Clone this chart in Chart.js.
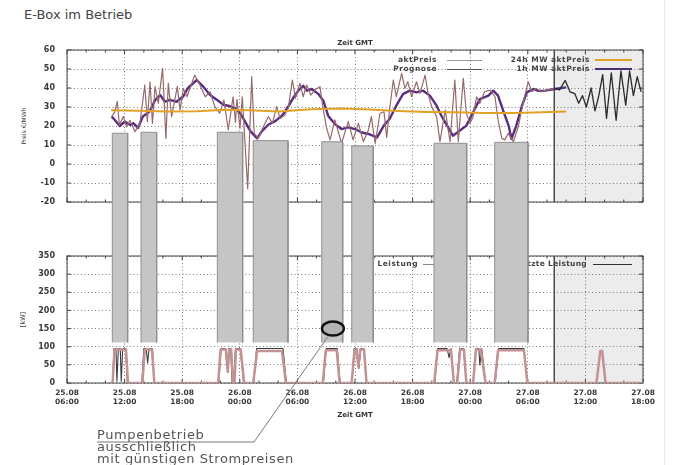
<!DOCTYPE html>
<html>
<head>
<meta charset="utf-8">
<script src="https://cdn.jsdelivr.net/npm/chart.js@4.4.1/dist/chart.umd.min.js"></script>
<style>
  html, body { margin: 0; padding: 0; background: #fff; }
  #page { position: relative; width: 673px; height: 465px; overflow: hidden; font-family: 'DejaVu Sans', sans-serif; }
  canvas { position: absolute; left: 0; top: 0; }
  .txt { position: absolute; white-space: nowrap; }
  .key { font-size: 7.5px; font-weight: bold; letter-spacing: 0.5px; color: #444; text-align: right; }
  .sample { position: absolute; }
</style>
</head>
<body>
<div id="page">
  <div class="txt" style="left:24px; top:7px; font-size:13px; color:#444;">E-Box im Betrieb</div>
  <div style="position:absolute; left:664px; top:0; width:1px; height:465px; background:#e3e8ee;"></div>

  <canvas id="powerChart" width="673" height="465" style="z-index:1"></canvas>
  <!-- key of the power plot, partly covered by the grey boxes -->
  <div class="txt key" style="right:255px; top:259px; z-index:2;">Ist Leistung</div>
  <div class="sample" style="left:423px; top:264px; width:37px; height:1px; background:#888; z-index:2;"></div>
  <div class="txt key" style="right:86px; top:259px; z-index:2; letter-spacing:0.3px;">Geschätzte Leistung</div>
  <div class="sample" style="left:593px; top:264px; width:39px; height:1px; background:#333; z-index:2;"></div>

  <canvas id="priceChart" width="673" height="465" style="z-index:3"></canvas>
  <!-- key of the price plot -->
  <div class="txt key" style="right:236px; top:55px; z-index:4;">aktPreis</div>
  <div class="sample" style="left:447px; top:60px; width:35px; height:1px; background:#999; z-index:4;"></div>
  <div class="txt key" style="right:236px; top:64px; z-index:4;">Prognose</div>
  <div class="sample" style="left:447px; top:69px; width:35px; height:1px; background:#555; z-index:4;"></div>
  <div class="txt key" style="right:83px; top:55px; z-index:4;">24h MW aktPreis</div>
  <div class="sample" style="left:595px; top:59px; width:37px; height:2px; background:#e3a126; z-index:4;"></div>
  <div class="txt key" style="right:83px; top:64px; z-index:4;">1h MW aktPreis</div>
  <div class="sample" style="left:595px; top:68px; width:37px; height:2px; background:#4a2c72; z-index:4;"></div>

  <canvas id="boxChart" width="673" height="465" style="z-index:5"></canvas>
  <div class="txt" style="left:97px; top:429px; font-size:13px; line-height:11.8px; color:#555; letter-spacing:0.6px; z-index:6;">Pumpenbetrieb<br>ausschließlich<br>mit günstigen Strompreisen</div>
</div>

<script>
Chart.defaults.font.family = 'DejaVu Sans';
Chart.defaults.animation = false;

// time axis: hours after 25.08 06:00 GMT
const startDay = 25;
const startHour = 6;
const month = '08';
const nowHour = 50.75;

// aktPreis (EUR/MWh)
const aktHours = [4.65, 4.95, 5.24, 5.45, 5.87, 6.2, 6.56, 7.08, 7.6, 8.1, 8.37, 8.65, 8.9, 9.17, 9.51, 9.96,
  10.3, 10.55, 10.9, 11.49, 11.77, 12.12, 12.5, 13.3, 13.85, 14.4, 14.9, 15.4, 15.9, 16.35, 16.8, 17.3,
  17.55, 17.7, 18.02, 18.26, 18.82, 19.24, 19.5, 19.93, 20.45, 20.97, 21.4, 21.84, 22.2, 22.7, 23.05,
  23.47, 23.8, 24.27, 24.6, 24.97, 25.4, 25.8, 26.35, 26.7, 27.05, 27.4, 27.9, 28.6, 29.3, 29.8, 30.35,
  30.87, 31.4, 31.7, 32.1, 32.6, 33.02, 33.3, 33.6, 33.99, 34.3, 34.86, 35.2, 35.5, 35.9, 36.4, 36.77,
  37.3, 37.64, 37.99, 38.5, 38.85, 39.4, 39.9, 40.4, 40.76, 41.28, 41.6, 41.97, 42.3, 42.67, 43.0, 43.5,
  44.06, 44.58, 44.9, 45.3, 45.6, 45.97, 46.5, 47.0, 47.5, 48.05, 48.4, 48.9, 49.4, 49.97, 50.7];
const aktValues = [25, 27, 33, 20.5, 25, 19.6, 23, 17, 21.4, 41.6, 22.3, 43.3, 21.4, 40.7, 31.9, 50.4,
  13.5, 42.5, 24.9, 40.7, 28.4, 39.8, 35.4, 46.8, 41.6, 35.4, 38, 30.2, 26.7, 33.7, 17.9, 35.4,
  22, 34, 18.8, 35.4, -13, 46, 16.1, 13.5, 19.6, 24.9, 21.4, 30.2, 24, 25.8, 29.3,
  44.2, 34.6, 42.5, 35.4, 41.6, 36.3, 38.9, 40.7, 28.4, 18.8, 12.7, 23.2, 10.9, 22.3, 12.7, 21.4,
  11.8, 17.9, 24.9, 10.9, 26.7, 27.5, 14, 28.4, 44.2, 35.4, 47.7, 39.8, 43.3, 35.4, 43.3, 37.2,
  46.8, 36.3, 30.2, 24.9, 11.8, 28.4, 11.8, 44.2, 11.8, 45.1, 26.7, 21.4, 24.9, 35.4, 31.9, 38,
  38.9, 35.4, 23.2, 13.5, 12.7, 16.1, 11.7, 19.6, 31.9, 43.3, 38, 39.8, 38, 38.9, 39.8];

// 1h MW aktPreis
const mw1hHours = [4.65, 5.0, 5.5, 6.0, 6.6, 6.9, 7.4, 7.9, 8.6, 9.2, 9.7, 10.2, 10.7, 11.4, 12.1, 12.6,
  13.5, 14.2, 14.9, 15.6, 16.3, 17.0, 17.7, 18.2, 19.1, 19.8, 20.3, 21.0, 21.7, 22.4, 23.1, 23.6, 24.1,
  24.6, 25.0, 25.5, 26.2, 26.7, 27.2, 27.9, 28.6, 29.3, 30.0, 30.7, 31.4, 32.3, 33.0, 33.6, 34.3, 35.0,
  35.7, 36.4, 37.1, 37.8, 38.5, 39.0, 39.7, 40.2, 40.9, 41.6, 42.3, 43.0, 43.9, 44.4, 44.9, 45.5, 46.0,
  46.3, 46.8, 47.4, 47.9, 48.6, 49.1, 49.8, 50.8, 52.0];
const mw1hValues = [25, 23, 20, 22.3, 20.5, 21.5, 19, 25, 27.6, 33.8, 36.3, 32.8, 33.8, 32.8, 35.5, 40,
  44.2, 40.7, 36.3, 33.8, 31.2, 30.4, 28.6, 25.5, 17.3, 13.5, 17.3, 20.8, 22.6, 25.5, 30.7, 35.1, 38.6,
  41.2, 38.6, 39.5, 36.8, 33.3, 25.4, 21, 18.4, 19.3, 18.4, 16.6, 15.8, 14, 20.2, 23.7, 30.7, 36.8,
  38.6, 37.7, 38.6, 36, 30.7, 25.4, 19.3, 14.9, 17.5, 20.2, 27.2, 34.2, 36, 38.6, 36, 27.2, 20.2,
  13.2, 20.2, 30.7, 37.7, 39.5, 38.5, 38.6, 39.5, 40.3];

// 24h MW aktPreis
const mw24hHours = [4.6, 7.5, 10.5, 13.5, 16.5, 19.0, 22.0, 25.5, 28.5, 31.5, 34.5, 37.5, 40.5, 43.5, 46.5, 49.5, 52.0];
const mw24hValues = [28.3, 28.0, 27.6, 27.8, 28.6, 28.3, 27.6, 28.8, 29.2, 28.7, 27.9, 27.4, 27.2, 26.9, 26.8, 27.2, 27.6];

// Prognose (after now)
const prognoseHours = [50.75, 51.3, 51.9, 52.4, 52.9, 53.3, 53.7, 54.1, 54.6, 55.0, 55.4, 55.8, 56.2,
  56.7, 57.2, 57.7, 58.2, 58.6, 59.0, 59.4, 59.8];
const prognoseValues = [40, 39, 44, 38, 37, 32, 36, 30, 40, 28, 36, 47, 24, 48, 23, 49, 31, 49, 36, 46, 38];

// Ist Leistung (kW)
const istHours = [4.5, 4.75, 4.9, 5.1, 5.2, 5.35, 5.55, 5.65, 5.8, 6.1, 6.3, 7.8, 8.0, 8.25, 8.4, 8.55, 8.9, 9.1,
  15.8, 16.05, 16.5, 16.7, 16.85, 17.05, 17.2, 17.35, 17.55, 18.05, 18.4, 19.45, 19.75, 22.5, 22.85,
  26.7, 27.0, 28.15, 28.45, 29.7, 29.9, 30.2, 30.4, 30.6, 30.9, 31.2, 38.3, 38.6, 39.6, 39.8, 40.0, 40.3,
  40.6, 40.9, 41.3, 41.6, 42.3, 42.6, 42.9, 43.0, 43.2, 43.6, 44.6, 44.95, 47.6, 47.95, 50.75];
const istValues = [0, 0, 95, 95, 5, 95, 95, 5, 95, 95, 0, 0, 95, 95, 55, 95, 95, 0,
  0, 95, 95, 40, 95, 95, 0, 0, 95, 95, 0, 0, 95, 95, 0,
  0, 95, 95, 0, 0, 95, 95, 40, 95, 95, 0, 0, 95, 95, 70, 95, 0,
  0, 95, 95, 0, 0, 95, 95, 50, 95, 0, 0, 95, 95, 0, 0];

// Geschaetzte Leistung (kW)
const estHours = [4.5, 4.75, 4.95, 6.15, 6.35, 7.85, 8.1, 8.85, 9.1, 15.75, 16.0, 16.55, 16.75, 16.9, 17.1, 17.3,
  17.45, 17.6, 18.1, 18.45, 19.4, 19.8, 22.4, 22.8, 26.65, 26.95, 28.1, 28.4, 29.65, 29.95, 30.15, 30.35,
  30.55, 30.95, 31.2, 38.25, 38.6, 40.0, 40.3, 40.65, 40.95, 41.35, 41.6, 42.3, 42.6, 43.1, 43.6,
  44.55, 44.9, 47.6, 47.95, 55.15, 55.55, 55.75, 56.1, 60];
const estValues = [0, 0, 92, 92, 0, 0, 92, 92, 0, 0, 92, 92, 30, 92, 92, 0,
  0, 92, 92, 0, 0, 88, 88, 0, 0, 90, 90, 0, 0, 92, 92, 45,
  92, 92, 0, 0, 90, 90, 0, 0, 92, 92, 0, 0, 92, 92, 0,
  0, 90, 90, 0, 0, 88, 88, 0, 0];

// grey boxes: pumping windows (start/end hour, upper edge in EUR/MWh)
const boxStart = [4.72, 7.71, 15.66, 19.4, 26.53, 29.66, 38.23, 44.55];
const boxEnd = [6.32, 9.34, 18.3, 23.02, 28.72, 31.9, 41.64, 48.02];
const boxTop = [16.2, 16.7, 16.7, 12.3, 11.7, 9.5, 10.9, 11.4];
const boxBottom = -94.05;

// marked point in the power plot
const calloutHour = 27.7;
const calloutKW = 150;

const pts = (xs, ys) => xs.map((x, i) => ({x: x, y: ys[i]}));

const tickFont = {family: 'DejaVu Sans', size: 8, weight: 'bold'};
const titleFont = {family: 'DejaVu Sans', size: 7, weight: 'bold'};
const gridOpts = {color: '#7a7a7a', lineWidth: 1, drawTicks: false};
const gridBorder = {display: false, dash: [1, 2.5]};

function timeLabel(v) {
  const t = startHour + v;
  const d = startDay + Math.floor(t / 24);
  const hh = String(t % 24).padStart(2, '0');
  return [d + '.' + month, hh + ':00'];
}

// future shading, now line, frame and small inside ticks
const framePlugin = {
  id: 'frame',
  beforeDraw(chart) {
    const {ctx, chartArea: a} = chart;
    const nx = chart.scales.x.getPixelForValue(nowHour);
    ctx.save();
    ctx.fillStyle = '#ececec';
    ctx.fillRect(nx, a.top, a.right - nx, a.bottom - a.top);
    ctx.restore();
  },
  beforeDatasetsDraw(chart) {
    const {ctx, chartArea: a, scales: {x, y}} = chart;
    ctx.save();
    ctx.strokeStyle = '#222';
    ctx.lineWidth = 1.2;
    const nx = x.getPixelForValue(nowHour);
    ctx.beginPath();
    ctx.moveTo(nx, a.top);
    ctx.lineTo(nx, a.bottom);
    ctx.stroke();
    ctx.strokeStyle = '#444';
    ctx.lineWidth = 1;
    ctx.strokeRect(a.left, a.top, a.right - a.left, a.bottom - a.top);
    ctx.beginPath();
    for (let h = 0; h <= 60; h += 2) {
      const px = x.getPixelForValue(h);
      const len = h % 6 === 0 ? 4 : 2.5;
      ctx.moveTo(px, a.top); ctx.lineTo(px, a.top + len);
      ctx.moveTo(px, a.bottom); ctx.lineTo(px, a.bottom - len);
    }
    y.ticks.forEach(t => {
      const py = y.getPixelForValue(t.value);
      ctx.moveTo(a.left, py); ctx.lineTo(a.left + 4, py);
      ctx.moveTo(a.right, py); ctx.lineTo(a.right - 4, py);
    });
    ctx.stroke();
    ctx.restore();
  }
};

function timeScale(showLabels, height) {
  return {
    type: 'linear', min: 0, max: 60,
    ticks: {stepSize: 6, display: showLabels, font: {family: 'DejaVu Sans', size: 7.5, weight: 'bold'},
      color: '#3a3a3a', padding: 6, maxRotation: 0, autoSkip: false, callback: timeLabel},
    grid: gridOpts,
    border: gridBorder,
    afterFit(s) { s.height = height; }
  };
}

const lineBase = {pointRadius: 0, tension: 0, borderJoinStyle: 'round', fill: false};

// power chart (bottom)
const powerChart = new Chart(document.getElementById('powerChart'), {
  type: 'line',
  data: {
    datasets: [
      Object.assign({label: 'Geschätzte Leistung', data: pts(estHours, estValues), borderColor: '#c39393', borderWidth: 2.5}, lineBase),
      Object.assign({label: 'Ist Leistung', data: pts(istHours, istValues), borderColor: '#3c3c3c', borderWidth: 1.1}, lineBase)
    ]
  },
  options: {
    responsive: false,
    events: [],
    layout: {padding: {left: 0, top: 256, right: 30, bottom: 0}},
    scales: {
      x: Object.assign(timeScale(true, 82), {
        title: {display: true, text: 'Zeit GMT', font: titleFont, color: '#333', padding: {top: 0, bottom: 45.8}}
      }),
      y: {
        min: 0, max: 350,
        ticks: {stepSize: 50, font: tickFont, color: '#3a3a3a', padding: 12},
        grid: gridOpts,
        border: gridBorder,
        title: {display: true, text: '[kW]', font: {family: 'DejaVu Sans', size: 6.5}, color: '#333', padding: {top: 19, bottom: 0}},
        afterFit(s) { s.width = 67; }
      }
    },
    plugins: {legend: {display: false}, tooltip: {enabled: false}}
  },
  plugins: [framePlugin]
});

// price chart (top)
const priceChart = new Chart(document.getElementById('priceChart'), {
  type: 'line',
  data: {
    datasets: [
      Object.assign({label: '24h MW aktPreis', data: pts(mw24hHours, mw24hValues), borderColor: '#e3a126', borderWidth: 2}, lineBase),
      Object.assign({label: 'aktPreis', data: pts(aktHours, aktValues), borderColor: '#966a6a', borderWidth: 1.2}, lineBase),
      Object.assign({label: 'Prognose', data: pts(prognoseHours, prognoseValues), borderColor: '#2b2b2b', borderWidth: 1.3}, lineBase),
      Object.assign({label: '1h MW aktPreis', data: pts(mw1hHours, mw1hValues), borderColor: '#5a2d85', borderWidth: 2.4}, lineBase)
    ]
  },
  options: {
    responsive: false,
    events: [],
    layout: {padding: {left: 0, top: 0, right: 30, bottom: 263}},
    scales: {
      x: timeScale(false, 0),
      x2: {
        type: 'linear', min: 0, max: 60, position: 'top',
        ticks: {display: false}, grid: {display: false}, border: {display: false},
        title: {display: true, text: 'Zeit GMT', font: titleFont, color: '#333', padding: {top: 38.8, bottom: 0}},
        afterFit(s) { s.height = 50; }
      },
      y: {
        min: -20, max: 60,
        ticks: {stepSize: 10, font: tickFont, color: '#3a3a3a', padding: 12},
        grid: gridOpts,
        border: gridBorder,
        title: {display: true, text: 'Preis €/MWh', font: {family: 'DejaVu Sans', size: 6}, color: '#333', padding: {top: 21, bottom: 0}},
        afterFit(s) { s.width = 67; }
      }
    },
    plugins: {legend: {display: false}, tooltip: {enabled: false}}
  },
  plugins: [framePlugin]
});

// ellipse and pointer line of the annotation
const calloutPlugin = {
  id: 'callout',
  afterDatasetsDraw(chart) {
    const ctx = chart.ctx;
    const cx = powerChart.scales.x.getPixelForValue(calloutHour);
    const cy = powerChart.scales.y.getPixelForValue(calloutKW);
    ctx.save();
    ctx.fillStyle = '#b4b4b4';
    ctx.strokeStyle = '#111';
    ctx.lineWidth = 2.4;
    ctx.beginPath();
    ctx.ellipse(cx, cy, 11, 7, 0, 0, Math.PI * 2);
    ctx.fill();
    ctx.stroke();
    ctx.strokeStyle = '#777';
    ctx.lineWidth = 1;
    ctx.beginPath();
    ctx.moveTo(cx - 5, cy + 8);
    ctx.lineTo(254, 442);
    ctx.lineTo(97, 442);
    ctx.stroke();
    ctx.restore();
  }
};

// grey boxes spanning both plots
new Chart(document.getElementById('boxChart'), {
  type: 'line',
  data: {
    datasets: boxStart.map((s, i) => ({
      data: [{x: s, y: boxBottom}, {x: s, y: boxTop[i]}, {x: boxEnd[i], y: boxTop[i]}, {x: boxEnd[i], y: boxBottom}],
      fill: 'start', backgroundColor: '#c5c5c5', borderColor: '#8f8f8f', borderWidth: 1,
      pointRadius: 0, tension: 0
    }))
  },
  options: {
    responsive: false,
    events: [],
    layout: {padding: {left: 67, top: 50, right: 30, bottom: 122.3}},
    scales: {
      x: {type: 'linear', min: 0, max: 60, display: false},
      y: {min: boxBottom, max: 60, display: false}
    },
    plugins: {legend: {display: false}, tooltip: {enabled: false}}
  },
  plugins: [calloutPlugin]
});
</script>
</body>
</html>
